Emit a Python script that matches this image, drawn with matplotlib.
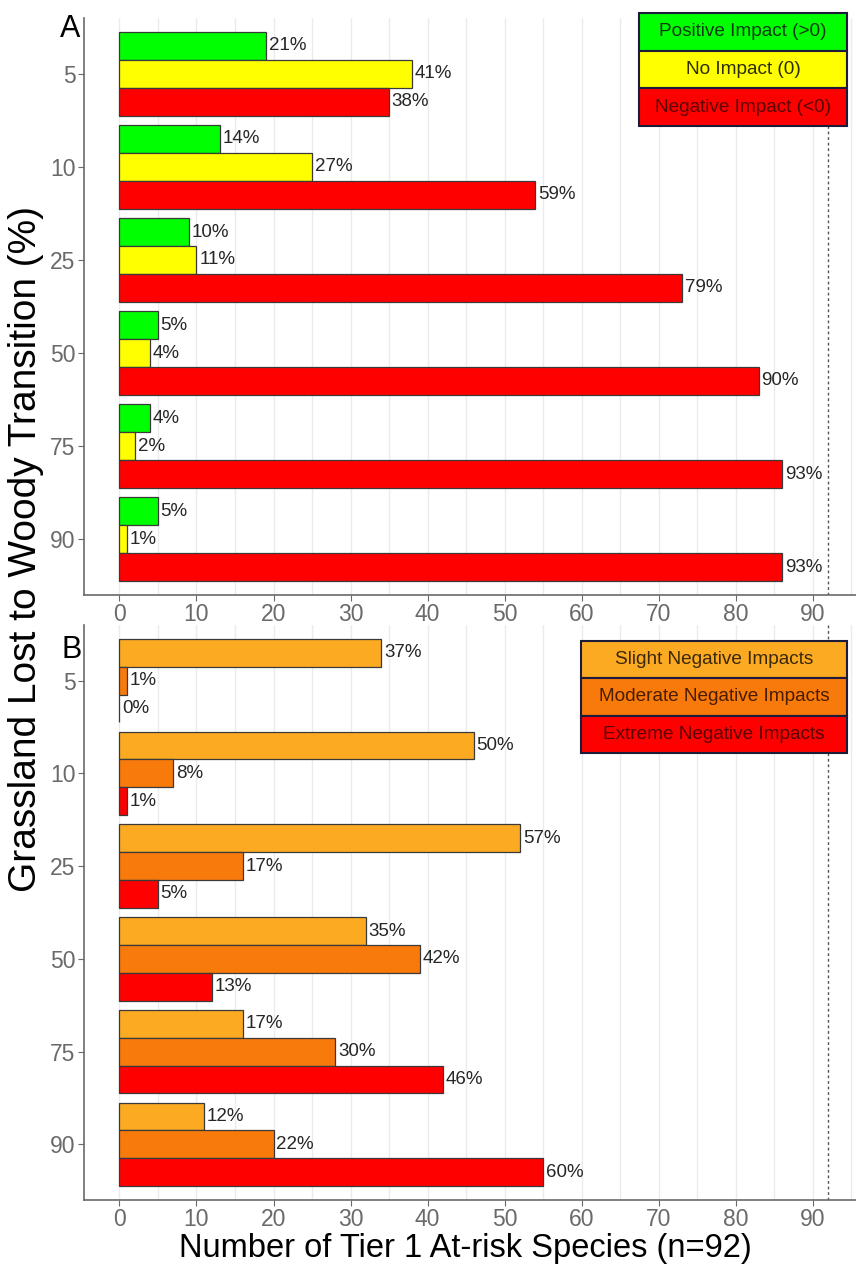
import matplotlib
matplotlib.use("Agg")
import matplotlib.pyplot as plt
from matplotlib.patches import Rectangle

plt.rcParams['font.family'] = ['Liberation Sans', 'DejaVu Sans']

# Species counts per grassland-loss threshold (n = 92 Tier 1 species)
N_SPECIES = 92
thresholds = ['5', '10', '25', '50', '75', '90']

# Panel A: direction of impact
positive = [19, 13, 9, 5, 4, 5]
no_impact = [38, 25, 10, 4, 2, 1]
negative = [35, 54, 73, 83, 86, 86]

# Panel B: severity of negative impact
slight = [34, 46, 52, 32, 16, 11]
moderate = [1, 7, 16, 39, 28, 20]
extreme = [0, 1, 5, 12, 42, 55]

labels_a = ['Positive Impact (>0)', 'No Impact (0)', 'Negative Impact (<0)']
labels_b = ['Slight Negative Impacts', 'Moderate Negative Impacts', 'Extreme Negative Impacts']
colors_a = ['#00FF00', '#FFFF00', '#FF0000']
colors_b = ['#FBAA22', '#F77A0A', '#FF0000']
text_a = ['#103a10', '#2e2e00', '#5c0000']
text_b = ['#3a2808', '#4a1c00', '#5c0000']

W, H = 856, 1264
fig = plt.figure(figsize=(W / 100, H / 100), dpi=100)


def fig_box(x0, y0, x1, y1):
    # pixel box (top-left origin) -> figure fraction rect
    return [x0 / W, 1 - y1 / H, (x1 - x0) / W, (y1 - y0) / H]


def draw_panel(ax, series, colors):
    ypos = list(range(len(thresholds)))
    offsets = [-0.3, 0.0, 0.3]
    for vals, col, off in zip(series, colors, offsets):
        ys = [y + off for y in ypos]
        ax.barh(ys, vals, height=0.3, color=col, edgecolor='#3a3a3a',
                linewidth=0.9, zorder=3)
        for y, v in zip(ys, vals):
            pct = round(v / N_SPECIES * 100)
            ax.text(v + 0.35, y, f'{pct}%', va='center', ha='left',
                    fontsize=13.5, color='#262626', zorder=4)
    ax.set_xlim(-4.6, 95.6)
    ax.set_ylim(len(thresholds) - 0.4, -0.6)
    ax.set_yticks(ypos)
    ax.set_yticklabels(thresholds)
    ax.set_xticks(range(0, 91, 10))
    ax.set_xticks(range(5, 96, 10), minor=True)
    ax.grid(axis='x', which='both', color='#EBEBEB', linewidth=1, zorder=0)
    ax.grid(axis='y', visible=False)
    ax.axvline(N_SPECIES, color='#555555', linestyle=(0, (2, 2)),
               linewidth=1, zorder=2)
    for side in ['top', 'right']:
        ax.spines[side].set_visible(False)
    for side in ['left', 'bottom']:
        ax.spines[side].set_color('#6a6a6a')
        ax.spines[side].set_linewidth(1.2)
    ax.tick_params(axis='both', which='major', labelsize=16.5,
                   labelcolor='#6a6a6a', color='#6a6a6a', length=4, pad=2)
    ax.tick_params(axis='x', which='minor', length=0)


def draw_key(x0, y0, x1, row_h, labels, colors, tcolors):
    for i, (lab, col, tc) in enumerate(zip(labels, colors, tcolors)):
        top = y0 + i * row_h
        rect = Rectangle((x0 / W, 1 - (top + row_h) / H), (x1 - x0) / W,
                         row_h / H, transform=fig.transFigure,
                         facecolor=col, edgecolor='#1c1c3a', linewidth=1.5,
                         zorder=10)
        fig.add_artist(rect)
        fig.text((x0 + x1) / 2 / W, 1 - (top + row_h / 2) / H, lab,
                 ha='center', va='center', fontsize=13.7, color=tc,
                 zorder=11)


ax_a = fig.add_axes(fig_box(84, 18, 856, 595))
draw_panel(ax_a, [positive, no_impact, negative], colors_a)

ax_b = fig.add_axes(fig_box(84, 625, 856, 1200))
draw_panel(ax_b, [slight, moderate, extreme], colors_b)

draw_key(639, 13, 847, 37.7, labels_a, colors_a, text_a)
draw_key(581, 641, 847, 37.3, labels_b, colors_b, text_b)

fig.text(70 / W, 1 - 29 / H, 'A', fontsize=22, ha='center', va='center')
fig.text(72 / W, 1 - 650 / H, 'B', fontsize=22, ha='center', va='center')

fig.text(26 / W, 1 - 549 / H, 'Grassland Lost to Woody Transition (%)',
         rotation=90, fontsize=28, ha='center', va='center')
fig.text(465 / W, 1 - 1257 / H, 'Number of Tier 1 At-risk Species (n=92)',
         fontsize=23.5, ha='center', va='baseline')

fig.savefig('out.png', dpi=100)
